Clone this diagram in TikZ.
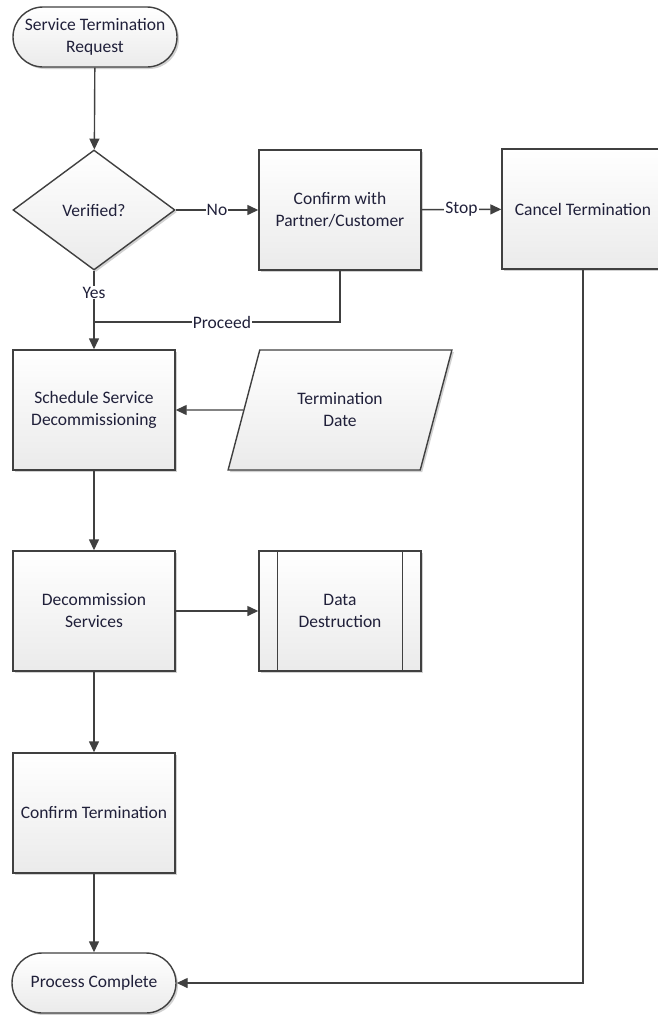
\documentclass[tikz,border=0pt]{standalone}
\usepackage{fontspec}
\setmainfont{Carlito}
\usetikzlibrary{shapes.geometric,arrows.meta,shadows}
\definecolor{ln}{HTML}{404040}
\definecolor{tx}{HTML}{20203A}
\tikzset{
  base/.style={draw=ln, line width=1.4pt, top color=white, bottom color=black!8,
    text=tx, align=center, font=\fontsize{17.5}{22}\selectfont,
    drop shadow={shadow xshift=2pt, shadow yshift=-2pt, opacity=0.18, fill=black}},
  proc/.style={base, rectangle, minimum width=162pt, minimum height=120pt, inner sep=0pt},
  term/.style={base, rectangle, rounded corners=30pt, minimum width=164pt, minimum height=60pt, inner sep=0pt},
  dec/.style={base, diamond, aspect=1.35, minimum width=162pt, minimum height=120pt, inner sep=0pt},
  io/.style={base, trapezium, trapezium left angle=63.8, trapezium right angle=116.2,
    trapezium stretches=true, minimum width=224pt, minimum height=120pt, inner sep=0pt},
  conn/.style={draw=ln, line width=1.4pt, -{Triangle[length=11pt,width=10pt]}},
  lbl/.style={fill=white, inner sep=1pt, text=tx, font=\fontsize{17.5}{22}\selectfont}
}
\begin{document}
\begin{tikzpicture}[x=1pt,y=-1pt]
\useasboundingbox (0,0) rectangle (657,1015);
\node[term] (start) at (95,37) {Service Termination\\Request};
\node[dec] (ver) at (94,210) {Verified?};
\node[proc] (conf) at (340,210) {Confirm with\\Partner/Customer};
\node[proc] (cancel) at (583,209) {Cancel Termination};
\node[proc] (sched) at (94,410) {Schedule Service\\Decommissioning};
\node[io] (tdate) at (340,410) {Termination\\Date};
\node[proc] (decom) at (94,611) {Decommission\\Services};
\node[proc] (dd) at (340,611) {Data\\Destruction};
\draw[draw=ln, line width=1.4pt] ([xshift=19pt]dd.north west) -- ([xshift=19pt]dd.south west)
  ([xshift=-19pt]dd.north east) -- ([xshift=-19pt]dd.south east);
\node[proc] (ct) at (94,813) {Confirm Termination};
\node[term] (done) at (94,983) {Process Complete};
\coordinate (join) at (94,322);

\draw[conn] (start) -- (ver);
\draw[conn] (ver) -- node[lbl] {No} (conf);
\draw[conn] (conf) -- node[lbl] {Stop} (cancel);
\draw[conn] (ver) -- node[lbl, pos=0.28] {Yes} (sched);
\draw[draw=ln, line width=1.4pt] (conf.south) |- node[lbl, pos=0.74] {Proceed} (join);
\draw[conn] (tdate.west) -- (sched.east);
\draw[conn] (sched) -- (decom);
\draw[conn] (decom) -- (dd);
\draw[conn] (decom) -- (ct);
\draw[conn] (ct) -- (done);
\draw[conn] (cancel.south) |- (done.east);
\end{tikzpicture}
\end{document}
